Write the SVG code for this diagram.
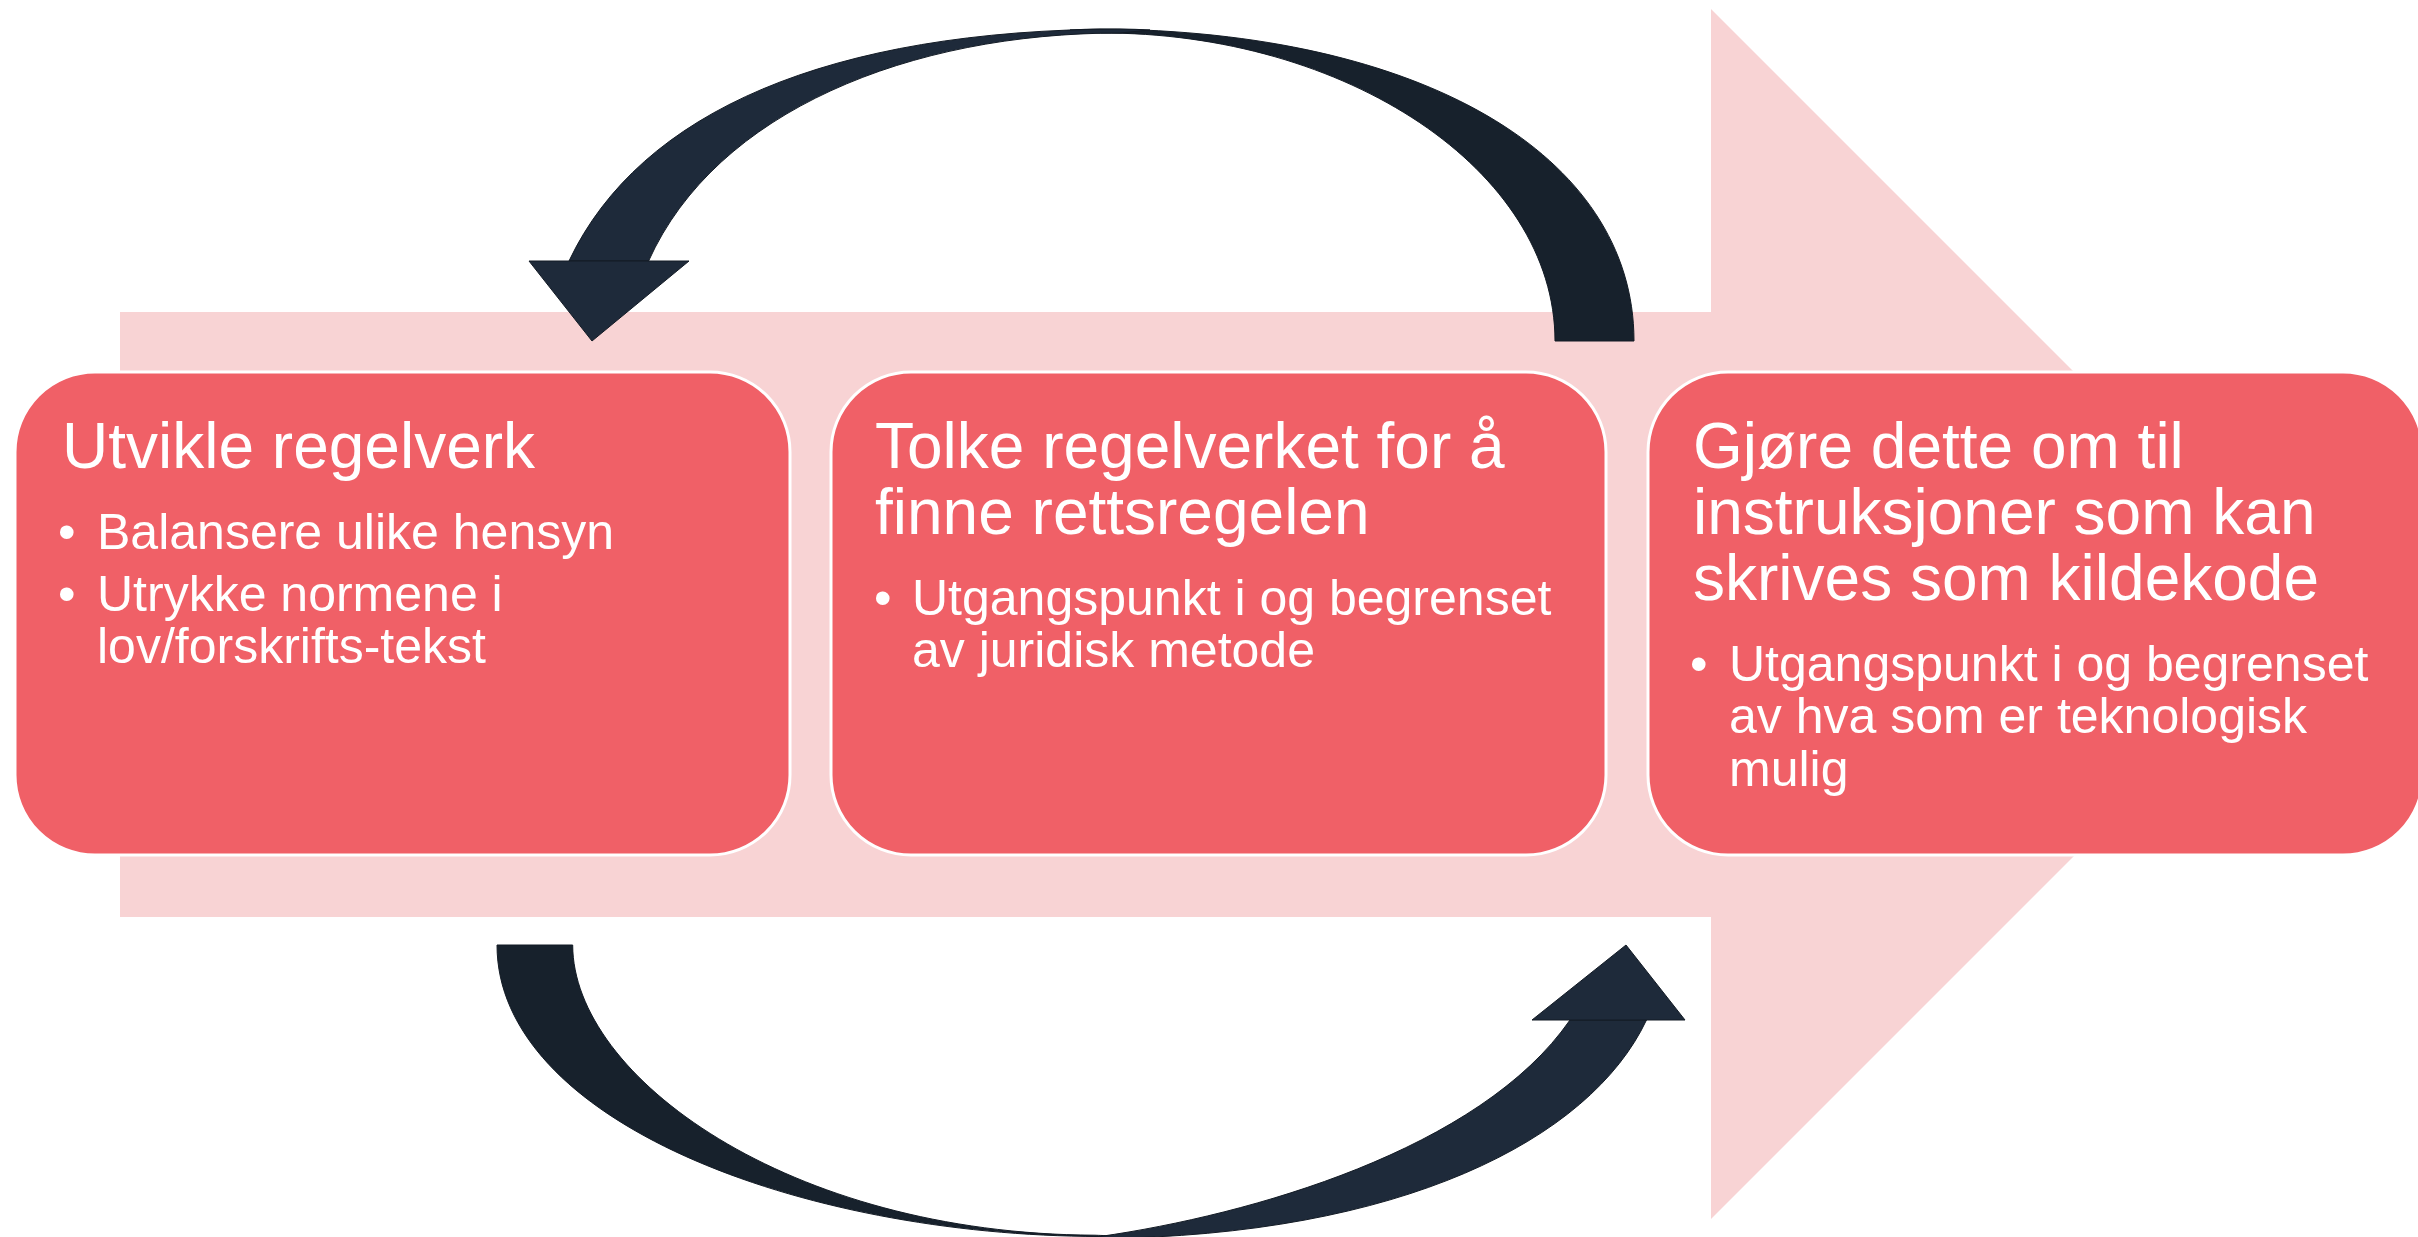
<svg xmlns="http://www.w3.org/2000/svg" width="2418" height="1237" viewBox="0 0 2418 1237">
<style>
.bg{fill:#F8D3D4}
.box{fill:#F06067;stroke:#FFFFFF;stroke-width:3}
.t{font-family:"Liberation Sans",Arial,sans-serif;fill:#FFFFFF}
.h{font-size:64px}
.b{font-size:50px}
.light{fill:#1E2A3A;stroke:#131B25;stroke-width:1}
.dark{fill:#17212C;stroke:#131B25;stroke-width:1}
</style>
<rect width="2418" height="1237" fill="#FFFFFF"/>
<g id="process-arrow">
<polygon class="bg" points="120,312 1711,312 1711,9 2316,614 1711,1219 1711,917 120,917"/>
</g>
<g id="connectors">
<g id="arrow-top">
<path class="dark" d="M1070,30 C1080,29.5 1090,29 1100,29 C1420,31 1634,154 1634,341 L1555,341 C1555,170.5 1346,32 1100,33 C1090,32 1080,31 1070,30 Z"/>
<path class="light" d="M1150,30 C1140,29.5 1130,29 1120,29 C830,30 640,111 569,261 L648.6,261 C716,111 910,33 1120,33 C1130,32 1140,31 1150,30 Z"/>
<polygon class="light" points="529,261 689,261 592,341"/>
</g>
<g id="arrow-bottom">
<path class="dark" d="M497,945 C497,1120 798,1236 1100,1236.5 C1105,1236.5 1110,1236.3 1115,1236 C1105,1235.6 1100,1235.4 1095,1235.2 C788,1234 572.7,1076 572.7,945 Z"/>
<path class="light" d="M1070,1238 C1080,1238 1090,1238.5 1100,1238.5 C1400,1236 1590,1140 1646.5,1020 L1570,1020 C1480,1150 1250,1215 1100,1236.5 C1090,1237 1080,1237.5 1070,1238 Z"/>
<polygon class="light" points="1532,1020 1685,1020 1626,945"/>
</g>
</g>
<g id="node-1">
<rect class="box" x="15" y="372" width="775" height="483" rx="80" ry="80"/>
<text class="t h" x="62" y="468">Utvikle regelverk</text>
<text class="t b" x="58" y="549">•</text>
<text class="t b" x="97" y="549">Balansere ulike hensyn</text>
<text class="t b" x="58" y="611">•</text>
<text class="t b" x="97" y="611">Utrykke normene i</text>
<text class="t b" x="97" y="663">lov/forskrifts-tekst</text>
</g>
<g id="node-2">
<rect class="box" x="831" y="372" width="775" height="483" rx="80" ry="80"/>
<text class="t h" x="875" y="468">Tolke regelverket for å</text>
<text class="t h" x="875" y="534">finne rettsregelen</text>
<text class="t b" x="874" y="615">•</text>
<text class="t b" x="912" y="615">Utgangspunkt i og begrenset</text>
<text class="t b" x="912" y="667">av juridisk metode</text>
</g>
<g id="node-3">
<rect class="box" x="1648" y="372" width="775" height="483" rx="80" ry="80"/>
<text class="t h" x="1693" y="468">Gjøre dette om til</text>
<text class="t h" x="1693" y="534">instruksjoner som kan</text>
<text class="t h" x="1693" y="600">skrives som kildekode</text>
<text class="t b" x="1690" y="681">•</text>
<text class="t b" x="1729" y="681">Utgangspunkt i og begrenset</text>
<text class="t b" x="1729" y="733">av hva som er teknologisk</text>
<text class="t b" x="1729" y="786">mulig</text>
</g>
</svg>
